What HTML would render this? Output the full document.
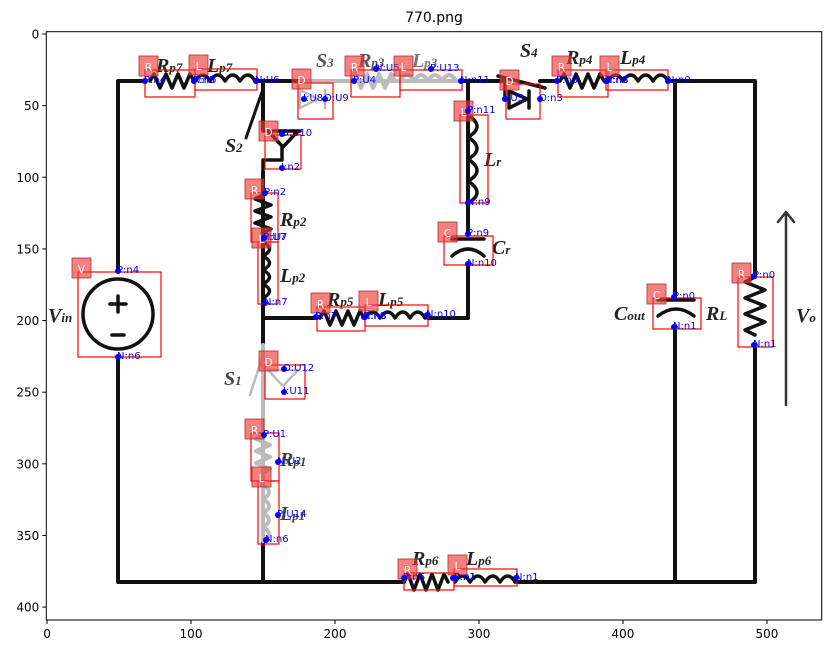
<!DOCTYPE html>
<html><head><meta charset="utf-8"><style>
body{margin:0;background:#fff;}
svg{display:block;font-family:"DejaVu Sans","Liberation Sans",sans-serif;}
.ser{font-family:"Liberation Serif","DejaVu Serif",serif;font-style:italic;font-weight:bold;fill:#222;}
</style></head><body>
<svg id="fig" width="831" height="654" viewBox="0 0 831 654" xmlns="http://www.w3.org/2000/svg">
<rect width="831" height="654" fill="#fff"/>
<text x="434" y="22" font-size="14" text-anchor="middle">770.png</text>
<g id="circuit" fill="none" stroke-linecap="round" stroke-linejoin="round">
 <g stroke="#111" stroke-width="4">
  <path d="M118 272 V81 H145 M256 81 H300 M263 81 V130"/>
  <path d="M263 172 V345 M263 318 H317 M428 318 H468 V264 M468 234 V81 H440 M462 81 H505 M540 81 H557 M668 81 H755 V277 M675 81 V298 M675 328 V582 M755 346 V582"/>
  <path d="M118 357 V582 H404 M517 582 H755 M263 540 V582"/>
 </g>
 <g stroke="#bbb" stroke-width="4">
  <path d="M300 81 H462 M263 345 V540"/>
  <path d="M351 81 l4 -7 l6 14 l6 -14 l6 14 l6 -14 l6 14 l6 -14 l4 7 M400 81 q7 -12 14 0 q7 -12 14 0 q7 -12 14 0 q7 -12 14 0"/>
  <path d="M300 90 L318 99 L300 108 Z M325 90 V108" stroke-width="2.5"/>
  <path d="M268 370 L283 386 L298 370 Z M250 395 L263 355" stroke-width="2.5"/>
  <path d="M263 435 l-7 4 l14 6 l-14 6 l14 6 l-14 6 l14 6 l-7 4 M263 485 q12 7 0 14 q12 7 0 14 q12 7 0 14 q12 7 0 14"/>
 </g>
 <g stroke="#111" stroke-width="3.5">
  <path d="M150 81 l4 -7 l6 14 l6 -14 l6 14 l6 -14 l6 14 l6 -14 l4 7"/>
  <path d="M195 81 q8 -12 15 0 q8 -12 15 0 q8 -12 15 0 q8 -12 15 0"/>
  <path d="M560 81 l4 -7 l6 14 l6 -14 l6 14 l6 -14 l6 14 l6 -14 l4 7"/>
  <path d="M608 81 q8 -12 15 0 q8 -12 15 0 q8 -12 15 0 q8 -12 15 0"/>
  <path d="M404 582 l4 -8 l6 16 l6 -16 l6 16 l6 -16 l6 16 l6 -16 l4 8"/>
  <path d="M455 582 q8 -12 15 0 q8 -12 15 0 q8 -12 15 0 q8 -12 15 0"/>
  <path d="M263 195 l-8 4 l16 6 l-16 6 l16 6 l-16 6 l16 6 l-8 4 M263 242 q13 7 0 14 q13 7 0 14 q13 7 0 14 q13 7 0 14"/>
  <path d="M468 115 q18 12 0 22 q18 12 0 22 q18 12 0 22 q18 12 0 22"/>
  <path d="M320 318 l4 -7 l6 14 l6 -14 l6 14 l6 -14 l6 14 l6 -14 l4 7"/>
  <path d="M365 318 q8 -12 15 0 q8 -12 15 0 q8 -12 15 0 q8 -12 15 0"/>
  <path d="M755 277 l-10 5 l20 8 l-20 8 l20 8 l-20 8 l20 8 l-20 8 l10 5"/>
  <path d="M452 239 H484 M452 256 q16 -14 32 0 M658 300 H694 M658 316 q18 -14 36 0"/>
  <path d="M268 131 L283 147 L298 131 Z M263 131 H300 M263 170 V160 H282 V147"/>
  <path d="M509 91 L527 99 L509 108 Z M529 91 V108 M505 99 V81 M498 76 L545 88"/>
  <path d="M246 138 L262 92" stroke-width="3"/>
  <circle cx="118" cy="314" r="35"/>
  <path d="M118 296 V312 M110 304 H126 M112 335 H124"/>
  <path d="M786 405 V212 M778 222 L786 212 L794 222" stroke-width="2.5" stroke="#333"/>
 </g>
 <g class="ser" font-size="20">
  <text x="156" y="72">R<tspan font-size="13">p7</tspan></text>
  <text x="207" y="72">L<tspan font-size="13">p7</tspan></text>
  <text x="316" y="67" fill="#555">S<tspan font-size="13">3</tspan></text>
  <text x="358" y="67" fill="#555">R<tspan font-size="13">p3</tspan></text>
  <text x="412" y="67" fill="#777">L<tspan font-size="13">p3</tspan></text>
  <text x="520" y="57">S<tspan font-size="13">4</tspan></text>
  <text x="566" y="64">R<tspan font-size="13">p4</tspan></text>
  <text x="620" y="64">L<tspan font-size="13">p4</tspan></text>
  <text x="225" y="152">S<tspan font-size="13">2</tspan></text>
  <text x="280" y="226">R<tspan font-size="13">p2</tspan></text>
  <text x="280" y="282">L<tspan font-size="13">p2</tspan></text>
  <text x="484" y="166">L<tspan font-size="13">r</tspan></text>
  <text x="492" y="254">C<tspan font-size="13">r</tspan></text>
  <text x="48" y="322">V<tspan font-size="13">in</tspan></text>
  <text x="327" y="306">R<tspan font-size="13">p5</tspan></text>
  <text x="378" y="306">L<tspan font-size="13">p5</tspan></text>
  <text x="224" y="385" fill="#444">S<tspan font-size="13">1</tspan></text>
  <text x="280" y="466" fill="#444">R<tspan font-size="13">p1</tspan></text>
  <text x="280" y="520" fill="#444">L<tspan font-size="13">p1</tspan></text>
  <text x="412" y="565">R<tspan font-size="13">p6</tspan></text>
  <text x="466" y="565">L<tspan font-size="13">p6</tspan></text>
  <text x="614" y="320">C<tspan font-size="13">out</tspan></text>
  <text x="706" y="320">R<tspan font-size="13">L</tspan></text>
  <text x="796" y="322">V<tspan font-size="13">o</tspan></text>
 </g>
</g>
<g id="annots"></g>
<g id="axes"></g>
</svg>
<script>
// axis ticks (data values of the image-coordinate axes)
const xTicks = [0, 100, 200, 300, 400, 500];
const yTicks = [0, 50, 100, 150, 200, 250, 300, 350, 400];
const xDomain = [-0.5, 538];
const yDomain = [-1.6, 409];
// component annotations: type, box [x1,y1,x2,y2], pins [label,x,y] (screen px of the source figure)
const compTypes = ["R","L","D","R","L","D","R","L","D","R","L","L","C","V","R","L","D","R","L","R","L","C","R"];
const compBoxes = [[145,70,195,97],[195,69,257,90],[298,83,333,119],[351,70,400,97],[400,70,462,90],[506,84,540,119],[558,70,608,97],[606,70,668,90],[265,135,301,169],[251,193,278,242],[258,242,278,304],[460,115,488,203],[444,236,493,265],[78,272,161,357],[317,307,365,331],[365,305,428,326],[265,365,305,399],[251,433,279,481],[258,481,279,544],[404,573,454,590],[454,569,517,586],[653,298,701,329],[738,277,773,347]];
const compPins = [
 [["P:n4",145,81],["N:n5",194,81]],
 [["P:n5",194,81],["N:U6",256,81]],
 [["I:U8",304,99],["O:U9",325,99]],
 [["P:U4",354,81],["N:U5",376,69]],
 [["P:U13",431,69],["N:n11",461,81]],
 [["I:U3",505,99],["O:n3",540,99]],
 [["P:n3",557,81],["N:n8",606,81]],
 [["P:n8",607,81],["N:n0",668,81]],
 [["O:U10",282,134],["I:n2",282,168]],
 [["P:n2",265,193],["N:U7",264,238]],
 [["P:U7",264,238],["N:n7",265,303]],
 [["P:n11",468,111],["N:n9",468,203]],
 [["P:n9",468,234],["N:n10",468,264]],
 [["P:n4",118,271],["N:n6",118,357]],
 [["P:n7",316,317],["N:n8",364,317]],
 [["P:n8",365,317],["N:n10",427,315]],
 [["O:U12",284,369],["I:U11",284,392]],
 [["P:U1",264,435],["N:U2",278,462]],
 [["P:U14",278,515],["N:n6",266,540]],
 [["P:n6",404,578],["N:n1",453,578]],
 [["P:n1",455,578],["N:n1",516,578]],
 [["P:n0",674,297],["N:n1",674,327]],
 [["P:n0",754,276],["N:n1",754,345]]
];
const NS = "http://www.w3.org/2000/svg";
const plot = {l:46.3, r:821.7, t:31.7, b:620};
function sx(v){ return plot.l + (v - xDomain[0]) / (xDomain[1]-xDomain[0]) * (plot.r-plot.l); }
function sy(v){ return plot.t + (v - yDomain[0]) / (yDomain[1]-yDomain[0]) * (plot.b-plot.t); }
function mk(tag, attrs, parent){ const e=document.createElementNS(NS,tag); for(const k in attrs) e.setAttribute(k,attrs[k]); parent.appendChild(e); return e; }

const ann = document.getElementById('annots');
compBoxes.forEach((b,i)=>{
  const g = mk('g',{},ann);
  
  
  const box = mk('rect',{x:b[0],y:b[1],width:b[2]-b[0],height:b[3]-b[1],fill:'none',stroke:'#f00','stroke-width':1.2},g);
  
  
  const sq = mk('rect',{x:b[0]-6,y:b[1]-14,width:19,height:20,fill:'rgba(240,60,60,0.65)',stroke:'#a33','stroke-width':0.8},g);
  
  
  const t = mk('text',{x:b[0]+3.5,y:b[1]+1,'font-size':10.5,fill:'#fff','text-anchor':'middle'},g);
  t.textContent = compTypes[i];
  
  
  compPins[i].forEach(p=>{
    const d = mk('circle',{cx:p[1],cy:p[2],r:3,fill:'#00f'},g);
    
    
    const pt = mk('text',{x:p[1]-1,y:p[2]+2,'font-size':10,fill:'#00f'},g);
    pt.textContent = p[0];
    
    
  });
});

const ax = document.getElementById('axes');
const frame = mk('rect',{x:plot.l,y:plot.t,width:plot.r-plot.l,height:plot.b-plot.t,fill:'none',stroke:'#000','stroke-width':1},ax);


xTicks.forEach(v=>{
  const x = sx(v);
  const l = mk('line',{x1:x,y1:plot.b,x2:x,y2:plot.b+4,stroke:'#000'},ax);
  
  
  const t = mk('text',{x:x,y:plot.b+18,'font-size':12,'text-anchor':'middle'},ax);
  t.textContent = v;
  
  
});
yTicks.forEach(v=>{
  const y = sy(v);
  const l = mk('line',{x1:plot.l-4,y1:y,x2:plot.l,y2:y,stroke:'#000'},ax);
  
  
  const t = mk('text',{x:plot.l-7,y:y+4.5,'font-size':12,'text-anchor':'end'},ax);
  t.textContent = v;
  
  
});
</script>
</body></html>
